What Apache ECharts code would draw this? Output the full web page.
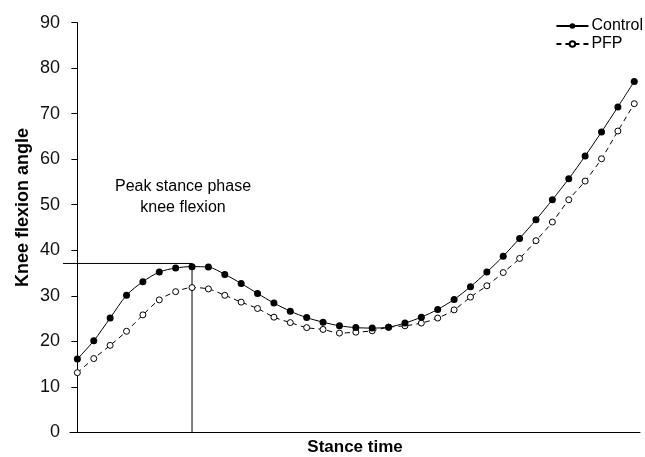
<!DOCTYPE html>
<html><head><meta charset="utf-8">
<script src="https://cdn.jsdelivr.net/npm/echarts@6/dist/echarts.min.js"></script>
<style>html,body{margin:0;padding:0;background:#fff}#c{width:645px;height:457px}</style>
</head><body><div id="c"></div>
<script>
var seriesNames = ['Control', 'PFP'];
var control = [16.1,20.1,25.1,30.1,33.1,35.2,36.1,36.4,36.3,34.7,32.7,30.5,28.4,26.6,25.2,24.2,23.4,23.0,22.9,23.1,24.0,25.3,27.0,29.2,32.0,35.2,38.7,42.6,46.7,51.1,55.7,60.7,66.0,71.5,77.1];
var pfp = [13.1,16.2,19.1,22.2,25.8,29.1,30.9,31.8,31.5,30.1,28.6,27.2,25.3,24.1,23.0,22.6,21.8,22.0,22.3,23.1,23.4,24.0,25.1,26.9,29.7,32.2,35.1,38.2,42.1,46.2,51.1,55.2,60.1,66.2,72.2];
var yTicks = [0,10,20,30,40,50,60,70,80,90];
var peakIndex = 7;
var peakLineValue = 37.1;
var xAxisTitle = 'Stance time';
var yAxisTitle = 'Knee flexion angle';
var annotation = ['Peak stance phase', 'knee flexion'];

function pairs(arr){ return arr.map(function(v,i){ return [i, v]; }); }
var font = 'Liberation Sans, Arial, sans-serif';
var chart = echarts.init(document.getElementById('c'), null, {renderer:'canvas'});
chart.setOption({
  animation: false,
  backgroundColor: '#fff',
  grid: {left: 70, right: 5, top: 22.7, bottom: 24.7, containLabel: false, outerBoundsMode: 'none'},
  legend: {
    orient: 'vertical', right: 2, top: 18, padding: 0, itemWidth: 32, itemHeight: 7, itemGap: 2,
    textStyle: {fontFamily: font, fontSize: 16, color: '#000', padding: [0,0,0,-2]},
    data: seriesNames
  },
  xAxis: {
    type: 'value', min: -0.45, max: 34.35,
    axisLine: {show: true, lineStyle: {color: '#000', width: 1}},
    axisTick: {show: false}, axisLabel: {show: false}, splitLine: {show: false},
    name: xAxisTitle, nameLocation: 'middle', nameGap: 7,
    nameTextStyle: {fontFamily: font, fontSize: 17, fontWeight: 'bold', color: '#000'}
  },
  yAxis: {
    type: 'value', min: yTicks[0], max: yTicks[yTicks.length-1], interval: 10,
    axisLine: {show: true, lineStyle: {color: '#000', width: 1}},
    axisTick: {show: true, length: 6, lineStyle: {color: '#000'}},
    axisLabel: {fontFamily: font, fontSize: 18, color: '#111', margin: 10},
    splitLine: {show: false}
  },
  graphic: [{
      type: 'text', x: 23, y: 207.5, rotation: Math.PI / 2,
      style: {text: yAxisTitle, fill: '#000', font: 'bold 18px ' + font, textAlign: 'center', textVerticalAlign: 'middle'}
    }].concat(annotation.map(function(t, i){
    return {type: 'text', x: 183, y: 187 + i*21,
      style: {text: t, fill: '#000', font: '16px ' + font, textAlign: 'center', textVerticalAlign: 'middle'}};
  })),
  series: [
    {
      name: seriesNames[0], type: 'line', data: pairs(control), smooth: 0.3,
      symbol: 'circle', symbolSize: 7,
      itemStyle: {color: '#000'}, lineStyle: {color: '#000', width: 1},
      z: 3
    },
    {
      name: seriesNames[1], type: 'line', data: pairs(pfp), smooth: 0.3,
      symbol: 'circle', symbolSize: 6,
      itemStyle: {color: '#fff', borderColor: '#000', borderWidth: 1},
      lineStyle: {color: '#000', width: 1, type: [5, 4]},
      z: 2
    },
    {
      type: 'custom', silent: true, clip: false, z: 1,
      data: [[peakIndex, peakLineValue]],
      renderItem: function(params, api){
        var p = api.coord([api.value(0), api.value(1)]);
        var b = api.coord([api.value(0), 0]);
        var left = params.coordSys.x - 7;
        return {type: 'polyline', shape: {points: [[left, p[1]], [p[0], p[1]], [b[0], b[1]]]},
          style: {stroke: '#000', lineWidth: 1, fill: null}};
      }
    }
  ]
});
</script></body></html>
